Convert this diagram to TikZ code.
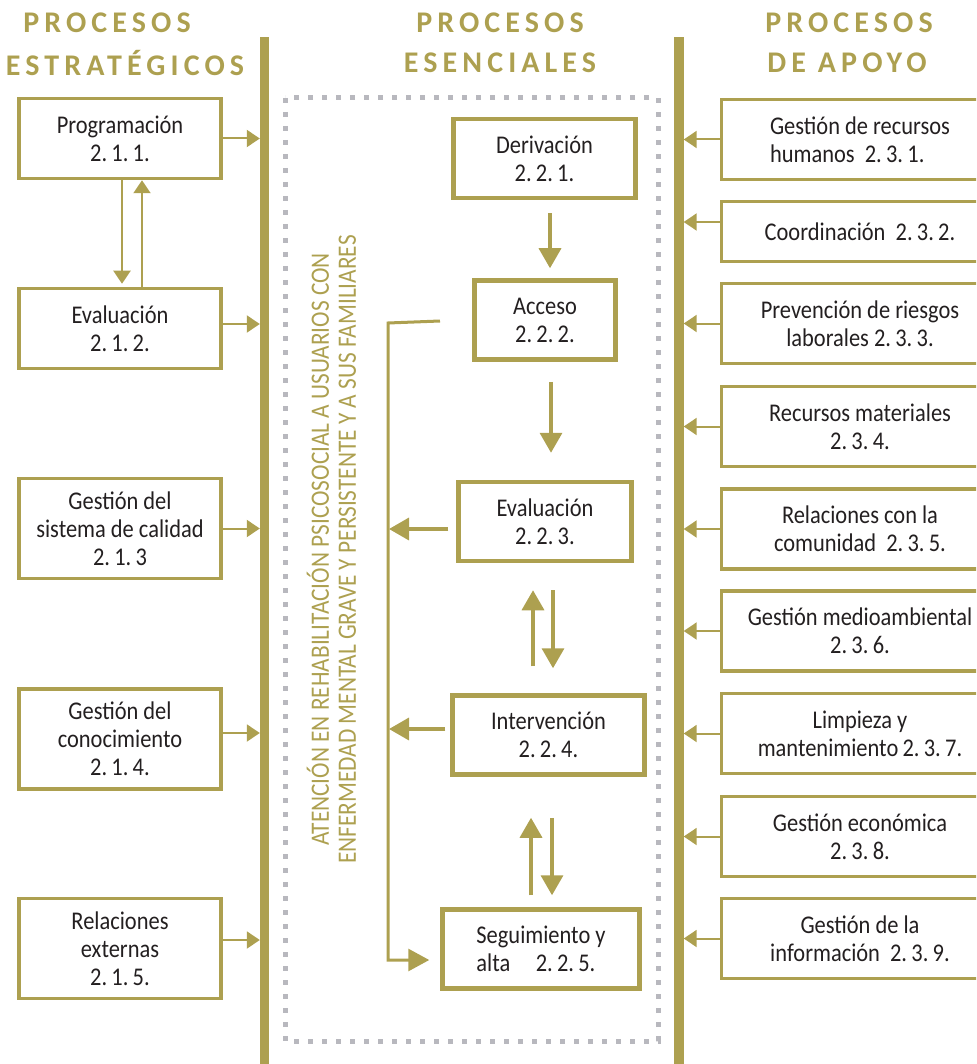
\documentclass[tikz,border=0pt]{standalone}
\usepackage{fontspec}
\setmainfont{Carlito}
\newfontfamily\titlefont{Carlito}[LetterSpace=17]
\newfontfamily\cajafont{Carlito}[FakeStretch=0.88]
\usetikzlibrary{arrows.meta,calc}
\definecolor{oliva}{RGB}{173,160,80}
\definecolor{puntos}{RGB}{184,184,190}
\definecolor{texto}{RGB}{35,31,32}

\begin{document}
\begin{tikzpicture}[x=1pt,y=-1pt,
    caja/.style={draw=oliva,line width=3.5pt,inner sep=0pt,align=center,text=texto,
      font=\cajafont\fontsize{25.5}{28}\selectfont},
    izq/.style={caja,minimum width=202pt,minimum height=80pt},
    der/.style={caja,minimum width=277pt,minimum height=80pt},
    centro/.style={caja,line width=4.5pt,minimum height=79pt},
    barra/.style={fill=oliva,inner sep=0pt,minimum height=1027pt},
    titulo/.style={text=oliva,font=\titlefont\bfseries\fontsize{30}{40}\selectfont},
    flecha/.style={color=oliva,line width=2pt,-{Triangle[length=13pt,width=17pt]}},
    flechag/.style={color=oliva,line width=3.5pt,-{Triangle[length=20pt,width=22pt]}},
    retro/.style={color=oliva,line width=3pt,-{Triangle[length=21pt,width=22pt]}}]
        \clip (0,0) rectangle (976,1064) ;
        % marco punteado de los procesos esenciales
        \draw[puntos,line width=5pt,dash pattern=on 5pt off 9pt]
        (285,98) rectangle (658,1041) ;
        % barras verticales
        \node[barra,minimum width=9pt] (barL) at (264.5,550.5) {} ;
        \node[barra,minimum width=10pt] (barR) at (678.5,550.5) {} ;
        % titulos
        \node[titulo] (t1a) at (107,23) {PROCESOS} ;
        \node[titulo] (t1b) at (125,63) {ESTRATÉGICOS} ;
        \node[titulo] (t2a) at (500,23) {PROCESOS} ;
        \node[titulo] (t2b) at (500,63) {ESENCIALES} ;
        \node[titulo] (t3a) at (849,23) {PROCESOS} ;
        \node[titulo] (t3b) at (847,63) {DE APOYO} ;
        % procesos estrategicos
        \node[izq] (prog) at (120,138.5) {Programación\\2.\,1.\,1.} ;
        \node[izq] (evl) at (120,328.5) {Evaluación\\2.\,1.\,2.} ;
        \node[izq,minimum height=100pt] (cal) at (120,528.5) {Gestión del\\sistema de calidad\\2.\,1.\,3} ;
        \node[izq,minimum height=100pt] (con) at (120,739) {Gestión del\\conocimiento\\2.\,1.\,4.} ;
        \node[izq,minimum height=100pt] (ext) at (120,948.5) {Relaciones\\externas\\2.\,1.\,5.} ;
        \draw[flecha] (prog.east) -- (prog.east -| barL.west) ;
        \draw[flecha] ($(evl.east)+(0,-4.5)$) -- ($(evl.east -| barL.west)+(0,-4.5)$) ;
        \draw[flecha] (cal.east) -- (cal.east -| barL.west) ;
        \draw[flecha] ($(con.east)+(0,-6)$) -- ($(con.east -| barL.west)+(0,-6)$) ;
        \draw[flecha] ($(ext.east)+(0,-8.5)$) -- ($(ext.east -| barL.west)+(0,-8.5)$) ;
        \draw[flecha,shorten >=3pt] ($(prog.south)+(2,0)$) -- ($(evl.north)+(2,0)$) ;
        \draw[flecha] ($(evl.north)+(22,0)$) -- ($(prog.south)+(22,0)$) ;
        % procesos de apoyo
        \node[der,align=left] (r1) at (860,139.5) {Gestión de recursos\\humanos\ \ 2.\,3.\,1.} ;
        \node[der,minimum height=60pt] (r2) at (860,231.5) {Coordinación\ \ 2.\,3.\,2.} ;
        \node[der] (r3) at (860,323.5) {Prevención de riesgos\\laborales 2.\,3.\,3.} ;
        \node[der] (r4) at (860,426.5) {Recursos materiales\\2.\,3.\,4.} ;
        \node[der] (r5) at (860,529) {Relaciones con la\\comunidad\ \ 2.\,3.\,5.} ;
        \node[der] (r6) at (860,631) {Gestión medioambiental\\2.\,3.\,6.} ;
        \node[der] (r7) at (860,733.5) {Limpieza y\\mantenimiento\,2.\,3.\,7.} ;
        \node[der] (r8) at (860,836.5) {Gestión económica\\2.\,3.\,8.} ;
        \node[der] (r9) at (860,938.5) {Gestión de la\\información\ \ 2.\,3.\,9.} ;
        \draw[flecha] (r1.west) -- (r1.west -| barR.east) ;
        \draw[flecha] ($(r2.west)+(0,-9.5)$) -- ($(r2.west -| barR.east)+(0,-9.5)$) ;
        \draw[flecha] (r3.west) -- (r3.west -| barR.east) ;
        \draw[flecha] (r4.west) -- (r4.west -| barR.east) ;
        \draw[flecha] (r5.west) -- (r5.west -| barR.east) ;
        \draw[flecha] (r6.west) -- (r6.west -| barR.east) ;
        \draw[flecha] (r7.west) -- (r7.west -| barR.east) ;
        \draw[flecha] (r8.west) -- (r8.west -| barR.east) ;
        \draw[flecha] (r9.west) -- (r9.west -| barR.east) ;
        % procesos esenciales
        \node[text=oliva,rotate=90,align=center,font=\cajafont\fontsize{26.5}{27}\selectfont] (lema) at (331.5,549.5)
        {ATENCIÓN EN REHABILITACIÓN PSICOSOCIAL A USUARIOS CON\\ENFERMEDAD MENTAL GRAVE Y PERSISTENTE Y A SUS FAMILIARES} ;
        \node[centro,minimum width=182pt] (deriv) at (544.5,158.5) {Derivación\\2.\,2.\,1.} ;
        \node[centro,minimum width=141pt] (acc) at (545,320) {Acceso\\2.\,2.\,2.} ;
        \node[centro,minimum width=173pt] (ev) at (545,521.5) {Evaluación\\2.\,2.\,3.} ;
        \node[centro,minimum width=192pt] (int) at (548.5,735) {Intervención\\2.\,2.\,4.} ;
        \node[centro,minimum width=197pt,align=left] (seg) at (541,949) {Seguimiento y\\alta\quad 2.\,2.\,5.} ;
        \draw[flechag,shorten <=13pt,shorten >=10pt] ($(deriv.south)+(5.5,0)$) -- ($(deriv.south |- acc.north)+(5.5,0)$) ;
        \draw[flechag,shorten <=20pt,shorten >=27pt] ($(acc.south)+(6,0)$) -- ($(acc.south |- ev.north)+(6,0)$) ;
        \draw[flechag,shorten <=27pt,shorten >=27pt] ($(int.north)+(-15.5,0)$) -- ($(int.north |- ev.south)+(-15.5,0)$) ;
        \draw[flechag,shorten <=27pt,shorten >=25pt] ($(int.north |- ev.south)+(4.5,0)$) -- ($(int.north)+(4.5,0)$) ;
        \draw[flechag,shorten <=12pt,shorten >=41pt] ($(seg.north -| int.south)+(-17.5,0)$) -- ($(int.south)+(-17.5,0)$) ;
        \draw[flechag,shorten <=41pt,shorten >=12pt] ($(int.south)+(3.5,0)$) -- ($(seg.north -| int.south)+(3.5,0)$) ;
        % linea de retorno
        \coordinate (fbtop) at (440,321) ;
        \coordinate (fbcorner) at (388,323) ;
        \draw[retro] (fbtop) -- (fbcorner) |- ($(seg.west)+(-11,11)$) ;
        \draw[flechag] ($(ev.west)+(-8,7.5)$) -- ($(ev.west -| fbcorner)+(1,7.5)$) ;
        \draw[flechag] ($(int.west)+(-5,-6)$) -- ($(int.west -| fbcorner)+(1,-6)$) ;
      \end{tikzpicture}
\end{document}
